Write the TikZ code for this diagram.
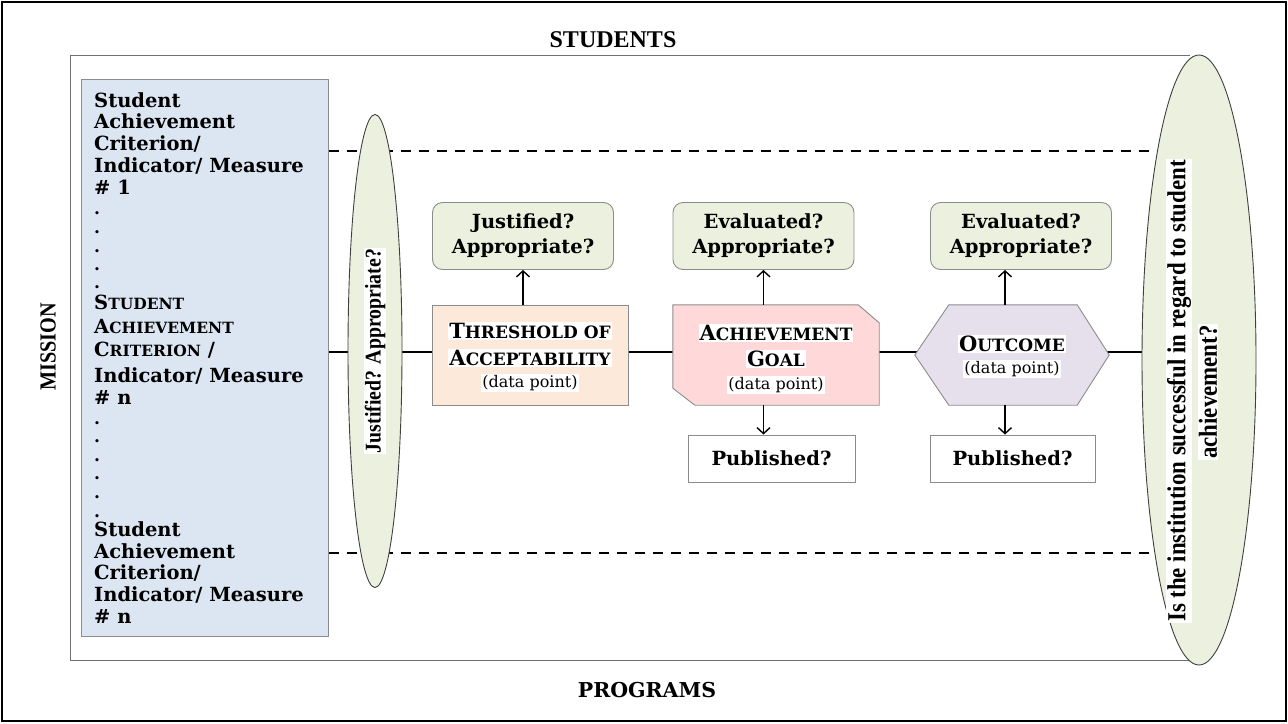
\documentclass[tikz,border=0pt]{standalone}
\usepackage{fontspec}
\setmainfont{DejaVu Serif}
\newfontfamily\timesfont{Liberation Serif}
\newfontfamily\condfont[FakeStretch=0.88]{Liberation Serif}
\usetikzlibrary{arrows.meta,shapes.geometric,backgrounds}
\definecolor{bluefill}{HTML}{DCE6F2}
\definecolor{greenfill}{HTML}{EBF1DE}
\definecolor{peachfill}{HTML}{FDE9D9}
\definecolor{pinkfill}{HTML}{FFD9DA}
\definecolor{lavfill}{HTML}{E5E0EC}
\definecolor{edgegray}{HTML}{8C8C8C}
\newcommand\bigsc[2]{{\fontsize{21}{24}\selectfont #1}{\fontsize{17}{24}\selectfont #2}}
\newcommand\midsc[2]{{\fontsize{19.5}{22}\selectfont #1}{\fontsize{15.5}{22}\selectfont #2}}
\tikzset{
  qbox/.style={draw=edgegray, fill=greenfill, rounded corners=10pt, line width=0.9pt,
    minimum width=181pt, minimum height=67pt, align=center, inner sep=0pt,
    font=\fontsize{19.5}{25}\selectfont\bfseries},
  pubbox/.style={draw=edgegray, fill=white, line width=0.9pt, minimum height=47pt,
    inner sep=0pt, font=\fontsize{19.5}{22}\selectfont\bfseries},
  oval/.style={ellipse, draw=black!75, fill=greenfill, line width=0.9pt, inner sep=0pt},
  hl/.style={fill=white, inner sep=1pt},
  conn/.style={line width=2pt},
  arr/.style={line width=1.4pt, -{Straight Barb[length=6pt,width=13pt]}},
  dashline/.style={line width=1.8pt, dash pattern=on 10pt off 8pt},
  crittext/.style={anchor=base west, inner sep=0pt, font=\fontsize{19.5}{22}\selectfont\bfseries},
  dottext/.style={anchor=base west, inner sep=0pt, font=\fontsize{17}{22}\selectfont\bfseries},
}
\begin{document}
\begin{tikzpicture}[x=1pt,y=-1pt]
\useasboundingbox (0,0) rectangle (1288,723);
\draw[line width=2.5pt] (2,2) rectangle (1286,721);
\draw[edgegray!80!black, line width=1pt] (1190,55) -- (70,55) -- (70,660) -- (1190,660);

% headings
\node[font=\timesfont\fontsize{24}{24}\selectfont\bfseries] (stud) at (613,40) {STUDENTS};
\node[font=\fontsize{20.5}{24}\selectfont\bfseries] (prog) at (647,690) {PROGRAMS};
\node[font=\condfont\fontsize{23}{24}\selectfont\bfseries, rotate=90] (miss) at (48,347) {MISSION};

% criterion box
\node[draw=edgegray, fill=bluefill, line width=1pt, minimum width=247pt, minimum height=557pt, inner sep=0pt] (crit) at (204.5,357.5) {};
\node[crittext] (c1a) at (94,107) {Student};
\node[crittext] (c1b) at (94,128) {Achievement};
\node[crittext] (c1c) at (94,150) {Criterion/};
\node[crittext] (c1d) at (94,172) {Indicator/ Measure};
\node[crittext] (c1e) at (94,194) {\# 1};
\node[crittext] (c2a) at (94,309) {\midsc{S}{TUDENT}};
\node[crittext] (c2b) at (94,333) {\midsc{A}{CHIEVEMENT}};
\node[crittext] (c2c) at (94,356) {\midsc{C}{RITERION} /};
\node[crittext] (c2d) at (94,382) {Indicator/ Measure};
\node[crittext] (c2e) at (94,404) {\# n};
\node[crittext] (c3a) at (94,536) {Student};
\node[crittext] (c3b) at (94,558) {Achievement};
\node[crittext] (c3c) at (94,579) {Criterion/};
\node[crittext] (c3d) at (94,601) {Indicator/ Measure};
\node[crittext] (c3e) at (94,623) {\# n};
\foreach \yy in {210,229,248,266,284,420,438,457,475,494,513}
  \node[dottext] at (94,\yy+4) {.};

% left ellipse
\node[oval, minimum width=54pt, minimum height=473pt] (lell) at (375,351) {};
\node[hl, rotate=90, font=\condfont\fontsize{22.5}{26}\selectfont\bfseries] (lelltext) at (lell) {Justified? Appropriate?};

% right ellipse
\node[oval, minimum width=114pt, minimum height=610pt] (rell) at (1199,360) {};
\node[hl, rotate=90, font=\condfont\fontsize{26}{30}\selectfont\bfseries] (rt1) at (1179,391) {Is the institution successful in regard to student};
\node[hl, rotate=90, font=\condfont\fontsize{26}{30}\selectfont\bfseries] (rt2) at (1208,392) {achievement?};

% threshold
\node[draw=edgegray, fill=peachfill, line width=0.9pt, minimum width=196pt, minimum height=100pt, inner sep=0pt] (thr) at (530,355) {};
\node[hl, font=\bfseries] (thr1) at (530,331) {\bigsc{T}{HRESHOLD OF}};
\node[hl, font=\bfseries] (thr2) at (530,358) {\bigsc{A}{CCEPTABILITY}};
\node[hl, font=\fontsize{16}{18}\selectfont] (thr3) at (530,383) {(data point)};
\node[qbox] (jus) at (523,236) {Justified?\\Appropriate?};

% achievement goal
\node[minimum width=206pt, minimum height=100pt, inner sep=0pt] (goal) at (776,355) {};
\fill[pinkfill, draw=edgegray, line width=0.9pt] (goal.north west) -- ([xshift=-21pt]goal.north east) -- ([yshift=-18pt]goal.north east) -- (goal.south east) -- ([xshift=22pt]goal.south west) -- ([yshift=17pt]goal.south west) -- cycle;
\node[hl, font=\bfseries] (goal1) at (776,333) {\bigsc{A}{CHIEVEMENT}};
\node[hl, font=\bfseries] (goal2) at (776,359) {\bigsc{G}{OAL}};
\node[hl, font=\fontsize{16}{18}\selectfont] (goal3) at (776,385) {(data point)};
\node[qbox] (ev1) at (763.5,236) {Evaluated?\\Appropriate?};
\node[pubbox, minimum width=167pt] (pub1) at (771.5,458.5) {Published?};

% outcome
\node[minimum width=194pt, minimum height=100pt, inner sep=0pt] (out) at (1012,355) {};
\fill[lavfill, draw=edgegray, line width=0.9pt] (out.west) -- ([xshift=34pt]out.north west) -- ([xshift=-32pt]out.north east) -- (out.east) -- ([xshift=-32pt]out.south east) -- ([xshift=34pt]out.south west) -- cycle;
\node[hl, font=\bfseries] (out1) at (1012,344) {\bigsc{O}{UTCOME}};
\node[hl, font=\fontsize{16}{18}\selectfont] (out2) at (1012,369) {(data point)};
\node[qbox] (ev2) at (1021,236) {Evaluated?\\Appropriate?};
\node[pubbox, minimum width=165pt] (pub2) at (1012.5,458.5) {Published?};

% connectors
\begin{pgfonlayer}{background}
\coordinate (mline) at (crit.east |- 0,352);
\draw[conn] (mline) -- (mline -| rell.center);
\draw[dashline] (crit.east |- 0,151) -- (1185,151);
\draw[dashline] (crit.east |- 0,553) -- (1185,553);
\end{pgfonlayer}
\draw[arr] (thr.north -| jus.south) -- (jus.south);
\draw[arr] (goal.north -| ev1.south) -- (ev1.south);
\draw[arr] (goal.south -| ev1.south) -- (ev1.south |- pub1.north);
\coordinate (oarr) at (1005,0);
\draw[arr] (out.north -| oarr) -- (ev2.south -| oarr);
\draw[arr] (out.south -| oarr) -- (pub2.north -| oarr);
\end{tikzpicture}
\end{document}
